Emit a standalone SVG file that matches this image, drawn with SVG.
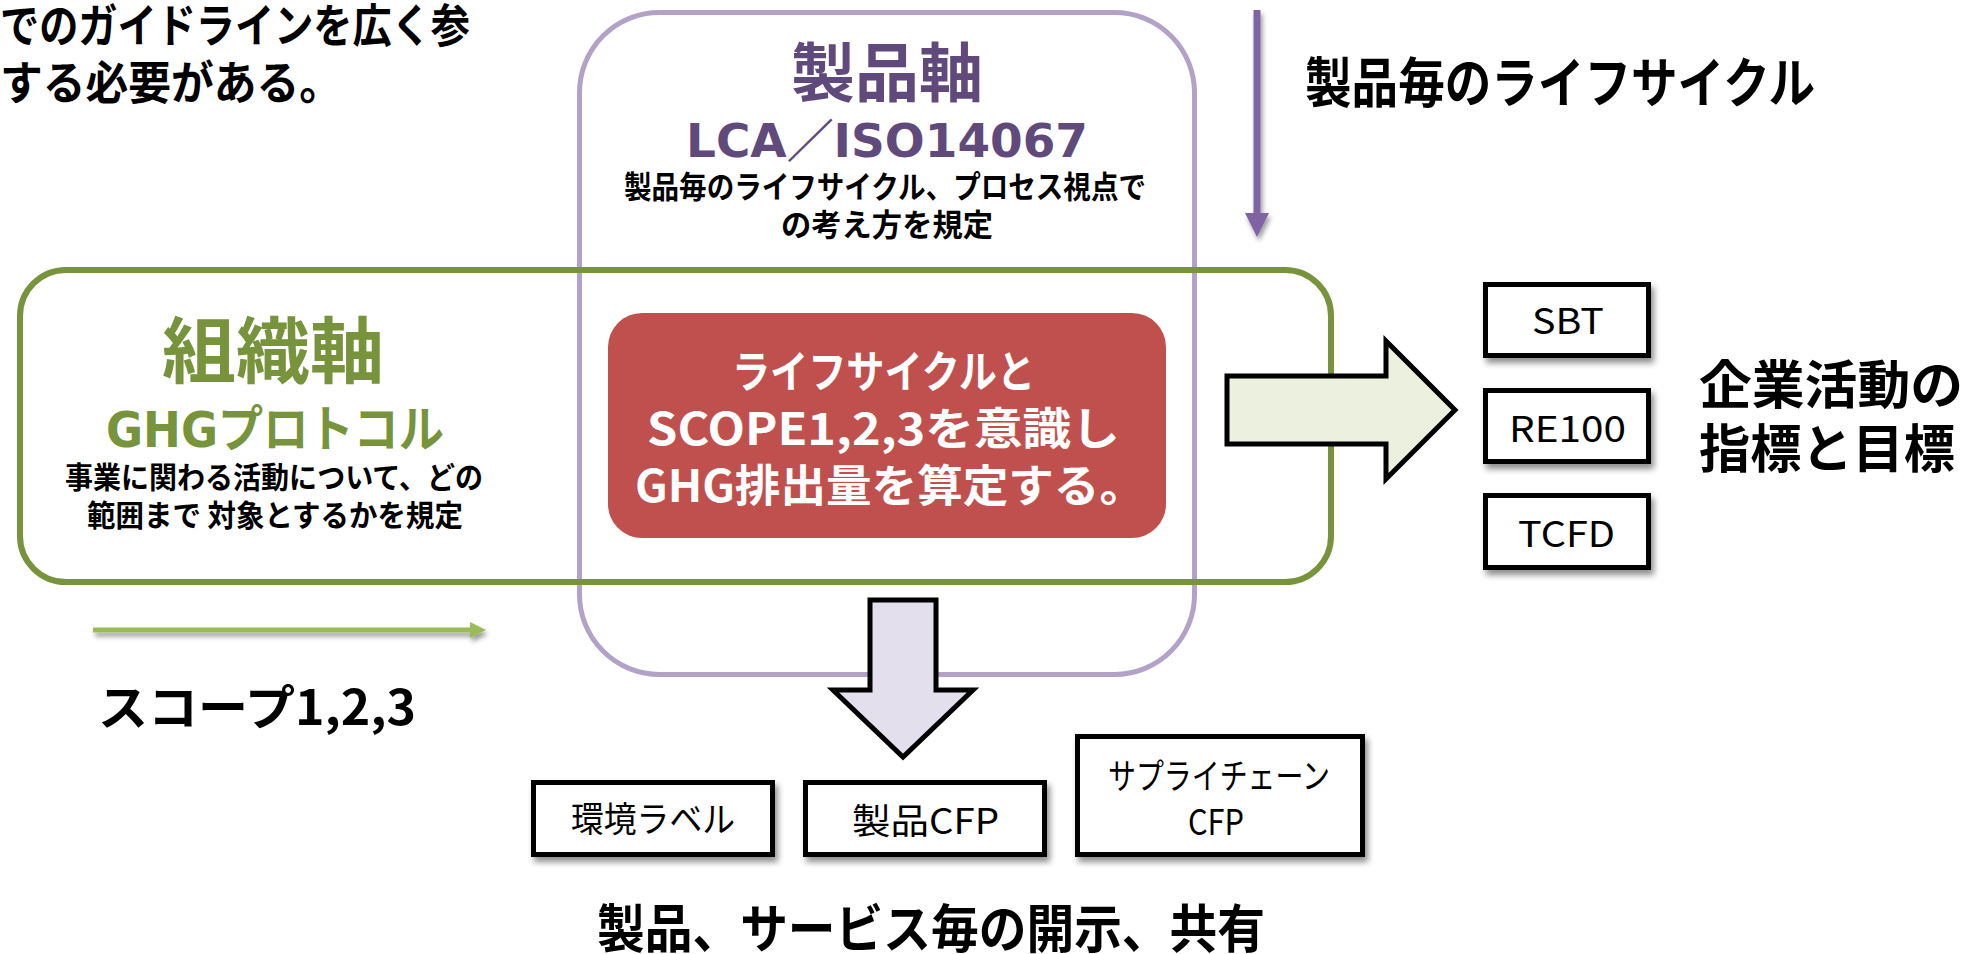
<svg xmlns="http://www.w3.org/2000/svg" width="1982" height="954" viewBox="0 0 1982 954">
<defs>
<style>
.jb{font-family:"Noto Sans CJK JP","Noto Sans",sans-serif;font-weight:700}
.jr{font-family:"Noto Sans CJK JP","Noto Sans",sans-serif;font-weight:400}
.vb{font-family:"DejaVu Sans","Noto Sans CJK JP",sans-serif;font-weight:700}
.blk{fill:#000}
.box{fill:#fff;stroke:#000;stroke-width:5;filter:url(#sh)}
</style>
<filter id="sh" x="-20%" y="-20%" width="150%" height="160%">
<feGaussianBlur in="SourceAlpha" stdDeviation="3"/>
<feOffset dx="3" dy="5" result="b"/>
<feComponentTransfer><feFuncA type="linear" slope="0.45"/></feComponentTransfer>
<feMerge><feMergeNode/><feMergeNode in="SourceGraphic"/></feMerge>
</filter>
<filter id="sh2" x="-20%" y="-50%" width="150%" height="300%">
<feGaussianBlur in="SourceAlpha" stdDeviation="2.5"/>
<feOffset dx="2" dy="4" result="b"/>
<feComponentTransfer><feFuncA type="linear" slope="0.4"/></feComponentTransfer>
<feMerge><feMergeNode/><feMergeNode in="SourceGraphic"/></feMerge>
</filter>
</defs>
<rect width="1982" height="954" fill="#fff"/>

<g id="intro-text" class="jb blk">
<text x="0" y="42" font-size="46" textLength="470" lengthAdjust="spacingAndGlyphs">でのガイドラインを広く参</text>
<text x="0" y="99" font-size="46" textLength="342" lengthAdjust="spacingAndGlyphs">する必要がある。</text>
</g>

<g id="product-axis">
<rect x="579.5" y="12.5" width="615" height="662" rx="80" fill="none" stroke="#b3a2c7" stroke-width="5"/>
<text class="jb" x="791" y="96" font-size="64" fill="#604a7b" textLength="192" lengthAdjust="spacingAndGlyphs">製品軸</text>
<text class="vb" x="686" y="157" font-size="46" fill="#604a7b" textLength="402" lengthAdjust="spacingAndGlyphs">LCA／ISO14067</text>
<text class="jb blk" x="624" y="198" font-size="31" textLength="522" lengthAdjust="spacingAndGlyphs">製品毎のライフサイクル、プロセス視点で</text>
<text class="jb blk" x="781" y="236" font-size="31" textLength="212" lengthAdjust="spacingAndGlyphs">の考え方を規定</text>
</g>

<g id="org-axis">
<rect x="20" y="270" width="1311" height="312" rx="46" fill="none" stroke="#77933c" stroke-width="6"/>
<text class="jb" x="162" y="377" font-size="72" fill="#77933c" textLength="222" lengthAdjust="spacingAndGlyphs">組織軸</text>
<text class="vb" x="106" y="447" font-size="50" fill="#77933c" textLength="338" lengthAdjust="spacingAndGlyphs">GHGプロトコル</text>
<text class="jb blk" x="65" y="488" font-size="30" textLength="418" lengthAdjust="spacingAndGlyphs">事業に関わる活動について、どの</text>
<text class="jb blk" x="87" y="526" font-size="30" textLength="376" lengthAdjust="spacingAndGlyphs">範囲まで 対象とするかを規定</text>
</g>

<g id="core">
<rect x="608" y="313" width="558" height="225" rx="34" fill="#c0504d"/>
<text class="jb" x="732" y="388" font-size="44" fill="#fff" textLength="303" lengthAdjust="spacingAndGlyphs">ライフサイクルと</text>
<text class="jb" x="647" y="445" font-size="44" fill="#fff" textLength="473" lengthAdjust="spacingAndGlyphs">SCOPE1,2,3を意識し</text>
<text class="jb" x="635" y="502" font-size="44" fill="#fff" textLength="510" lengthAdjust="spacingAndGlyphs">GHG排出量を算定する。</text>
</g>

<g id="connectors">
<g filter="url(#sh2)">
<line x1="1257" y1="10" x2="1257" y2="215" stroke="#8064a2" stroke-width="7"/>
<polygon points="1245,213 1269,213 1257,237" fill="#8064a2"/>
</g>
<g filter="url(#sh2)">
<line x1="93" y1="630" x2="472" y2="630" stroke="#9bbb59" stroke-width="5"/>
<polygon points="470,622 486,630 470,638" fill="#9bbb59"/>
</g>
<polygon points="1227,376 1386,376 1386,341 1455,410 1386,479 1386,444 1227,444" fill="#ebf1de" stroke="#000" stroke-width="5"/>
<polygon points="870,600 936,600 936,690 973,690 903,757 833,690 870,690" fill="#e4dfec" stroke="#000" stroke-width="5"/>
</g>

<g id="lifecycle-label" class="jb blk">
<text x="1305" y="103" font-size="54" textLength="510" lengthAdjust="spacingAndGlyphs">製品毎のライフサイクル</text>
</g>

<g id="scope-label" class="jb blk">
<text x="98" y="725" font-size="48" textLength="318" lengthAdjust="spacingAndGlyphs">スコープ1,2,3</text>
</g>

<g id="sbt">
<rect class="box" x="1485.5" y="284.5" width="163" height="71"/>
<text class="jr blk" x="1532" y="334" font-size="36" textLength="72" lengthAdjust="spacingAndGlyphs">SBT</text>
</g>
<g id="re100">
<rect class="box" x="1485.5" y="390.5" width="163" height="71"/>
<text class="jr blk" x="1509" y="442" font-size="36" textLength="117" lengthAdjust="spacingAndGlyphs">RE100</text>
</g>
<g id="tcfd">
<rect class="box" x="1485.5" y="495.5" width="163" height="72"/>
<text class="jr blk" x="1518" y="547" font-size="36" textLength="97" lengthAdjust="spacingAndGlyphs">TCFD</text>
</g>

<g id="corporate-label" class="jb blk">
<text x="1699" y="404" font-size="52" textLength="264" lengthAdjust="spacingAndGlyphs">企業活動の</text>
<text x="1699" y="468" font-size="52" textLength="256" lengthAdjust="spacingAndGlyphs">指標と目標</text>
</g>

<g id="eco-label">
<rect class="box" x="533.5" y="782.5" width="239" height="72"/>
<text class="jr blk" x="571" y="832" font-size="35" textLength="164" lengthAdjust="spacingAndGlyphs">環境ラベル</text>
</g>
<g id="product-cfp">
<rect class="box" x="805.5" y="782.5" width="239" height="72"/>
<text class="jr blk" x="852" y="834" font-size="35" textLength="147" lengthAdjust="spacingAndGlyphs">製品CFP</text>
</g>
<g id="supply-cfp">
<rect class="box" x="1077.5" y="736.5" width="285" height="118"/>
<text class="jr blk" x="1108" y="789" font-size="35" textLength="222" lengthAdjust="spacingAndGlyphs">サプライチェーン</text>
<text class="jr blk" x="1188" y="835" font-size="35" textLength="56" lengthAdjust="spacingAndGlyphs">CFP</text>
</g>

<g id="disclosure-label" class="jb blk">
<text x="597" y="948" font-size="52" textLength="668" lengthAdjust="spacingAndGlyphs">製品、サービス毎の開示、共有</text>
</g>
</svg>
